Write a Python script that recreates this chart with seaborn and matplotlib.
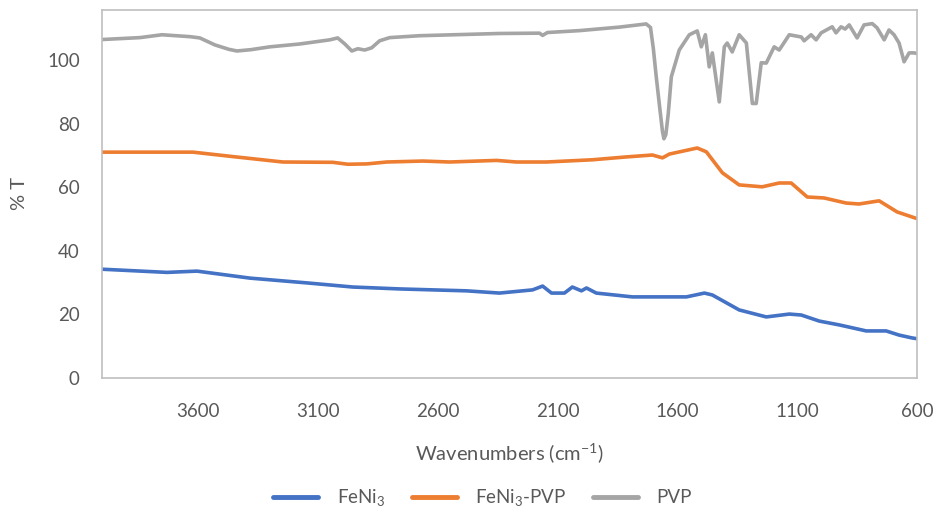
import numpy as np
import pandas as pd
import matplotlib
matplotlib.use("Agg")
import matplotlib.pyplot as plt
import seaborn as sns

# FTIR spectra (wavenumber in cm-1, %T)
pvp_wn = [4000, 3842, 3750, 3633, 3592, 3529, 3470, 3437, 3380, 3300, 3175, 3050,
          3017, 2987, 2958, 2933, 2904, 2875, 2842, 2800, 2675, 2342, 2175, 2162,
          2142, 2008, 1842, 1730, 1712, 1700, 1688, 1672, 1662, 1656, 1648, 1638,
          1625, 1592, 1550, 1517, 1500,
          1483, 1467, 1454, 1425, 1404, 1392, 1371, 1342, 1312, 1287, 1271, 1250,
          1229, 1196, 1175, 1133, 1083, 1071, 1042, 1021, 1000, 954, 938, 917,
          900, 883, 850, 821, 787, 767, 737, 717, 696, 675, 654, 633, 612, 600]
pvp_t = [106.4, 107.0, 107.9, 107.3, 106.9, 104.7, 103.3, 102.8, 103.2, 104.1, 105.0, 106.3,
         106.9, 105.0, 102.8, 103.5, 103.1, 103.8, 106.0, 107.0, 107.6, 108.3, 108.4, 107.7,
         108.6, 109.2, 110.3, 111.3, 110.2, 103.5, 94.7, 84.0, 77.5, 75.2, 76.5, 83.0,
         94.7, 103.1, 107.9, 109.1, 104.1,
         107.9, 97.8, 102.2, 86.8, 104.1, 105.3, 102.5, 107.9, 105.3, 86.3, 86.3, 99.1,
         99.0, 104.1, 103.1, 107.9, 107.2, 106.0, 107.9, 106.3, 108.5, 110.4, 108.5, 110.4,
         109.7, 111.0, 106.9, 111.0, 111.4, 110.1, 106.3, 109.4, 107.9, 105.3, 99.4, 102.2,
         102.2, 102.0]

mix_wn = [4000, 3746, 3621, 3454, 3246, 3037, 2975, 2896, 2812, 2662, 2550, 2354,
          2271, 2146, 1954, 1812, 1704, 1662, 1633, 1517, 1479, 1412, 1342, 1246,
          1175, 1125, 1058, 988, 896, 842, 758, 683, 604]
mix_t = [71.0, 71.0, 71.0, 69.6, 67.9, 67.8, 67.2, 67.3, 67.9, 68.2, 67.9, 68.4,
         67.9, 67.9, 68.6, 69.5, 70.1, 69.2, 70.4, 72.3, 71.1, 64.5, 60.7, 60.1,
         61.3, 61.3, 56.9, 56.6, 55.0, 54.7, 55.7, 52.2, 50.2]

feni_wn = [4000, 3729, 3604, 3383, 3146, 2954, 2758, 2479, 2342, 2204, 2162, 2125,
           2071, 2038, 2000, 1979, 1938, 1788, 1562, 1487, 1454, 1342, 1229, 1133,
           1083, 1008, 925, 812, 729, 675, 621, 604]
feni_t = [34.2, 33.2, 33.6, 31.4, 29.9, 28.6, 28.0, 27.4, 26.7, 27.7, 28.9, 26.7,
          26.7, 28.6, 27.4, 28.3, 26.7, 25.5, 25.5, 26.7, 26.1, 21.4, 19.2, 20.1,
          19.8, 17.9, 16.7, 14.8, 14.8, 13.5, 12.6, 12.4]

labels = ["FeNi$_3$", "FeNi$_3$-PVP", "PVP"]
colors = ["#4472C4", "#ED7D31", "#A5A5A5"]

df = pd.concat([
    pd.DataFrame({"wn": feni_wn, "T": feni_t, "sample": labels[0]}),
    pd.DataFrame({"wn": mix_wn, "T": mix_t, "sample": labels[1]}),
    pd.DataFrame({"wn": pvp_wn, "T": pvp_t, "sample": labels[2]}),
])

sns.set_style("white")
plt.rcParams["font.family"] = ["Lato", "DejaVu Sans"]
plt.rcParams["mathtext.fontset"] = "custom"
plt.rcParams["mathtext.rm"] = "Lato"
plt.rcParams["mathtext.it"] = "Lato"
plt.rcParams["mathtext.default"] = "regular"

fig = plt.figure(figsize=(9.37, 5.15), dpi=100)
ax = fig.add_axes([0.1089, 0.266, 0.8698, 0.7147])

sns.lineplot(data=df, x="wn", y="T", hue="sample", palette=colors,
             hue_order=labels, estimator=None, linewidth=2.6, ax=ax, legend=False)

ax.set_xlim(4000, 600)
ax.set_ylim(0, 115.7)
ax.set_xticks([3600, 3100, 2600, 2100, 1600, 1100, 600])
ax.set_yticks([0, 20, 40, 60, 80, 100])

for s in ax.spines.values():
    s.set_color("#BFBFBF")
    s.set_linewidth(1.2)

ax.tick_params(axis="both", length=0, labelsize=13.5, labelcolor="#595959")
ax.tick_params(axis="x", pad=18)
ax.tick_params(axis="y", pad=16)

ax.set_xlabel("Wavenumbers (cm$^{-1}$)", fontsize=14.5, color="#595959", labelpad=15)
ax.set_ylabel("% T", fontsize=14.5, color="#595959", labelpad=14)

handles = [plt.Line2D([], [], color=c, linewidth=3.5) for c in colors]
ax.legend(handles, labels, loc="center", bbox_to_anchor=(0.467, -0.325), ncol=3,
          frameon=False, fontsize=13.5, handlelength=2.4, handletextpad=1.0,
          columnspacing=1.4, labelcolor="#595959")

fig.savefig("out.png", dpi=100)
